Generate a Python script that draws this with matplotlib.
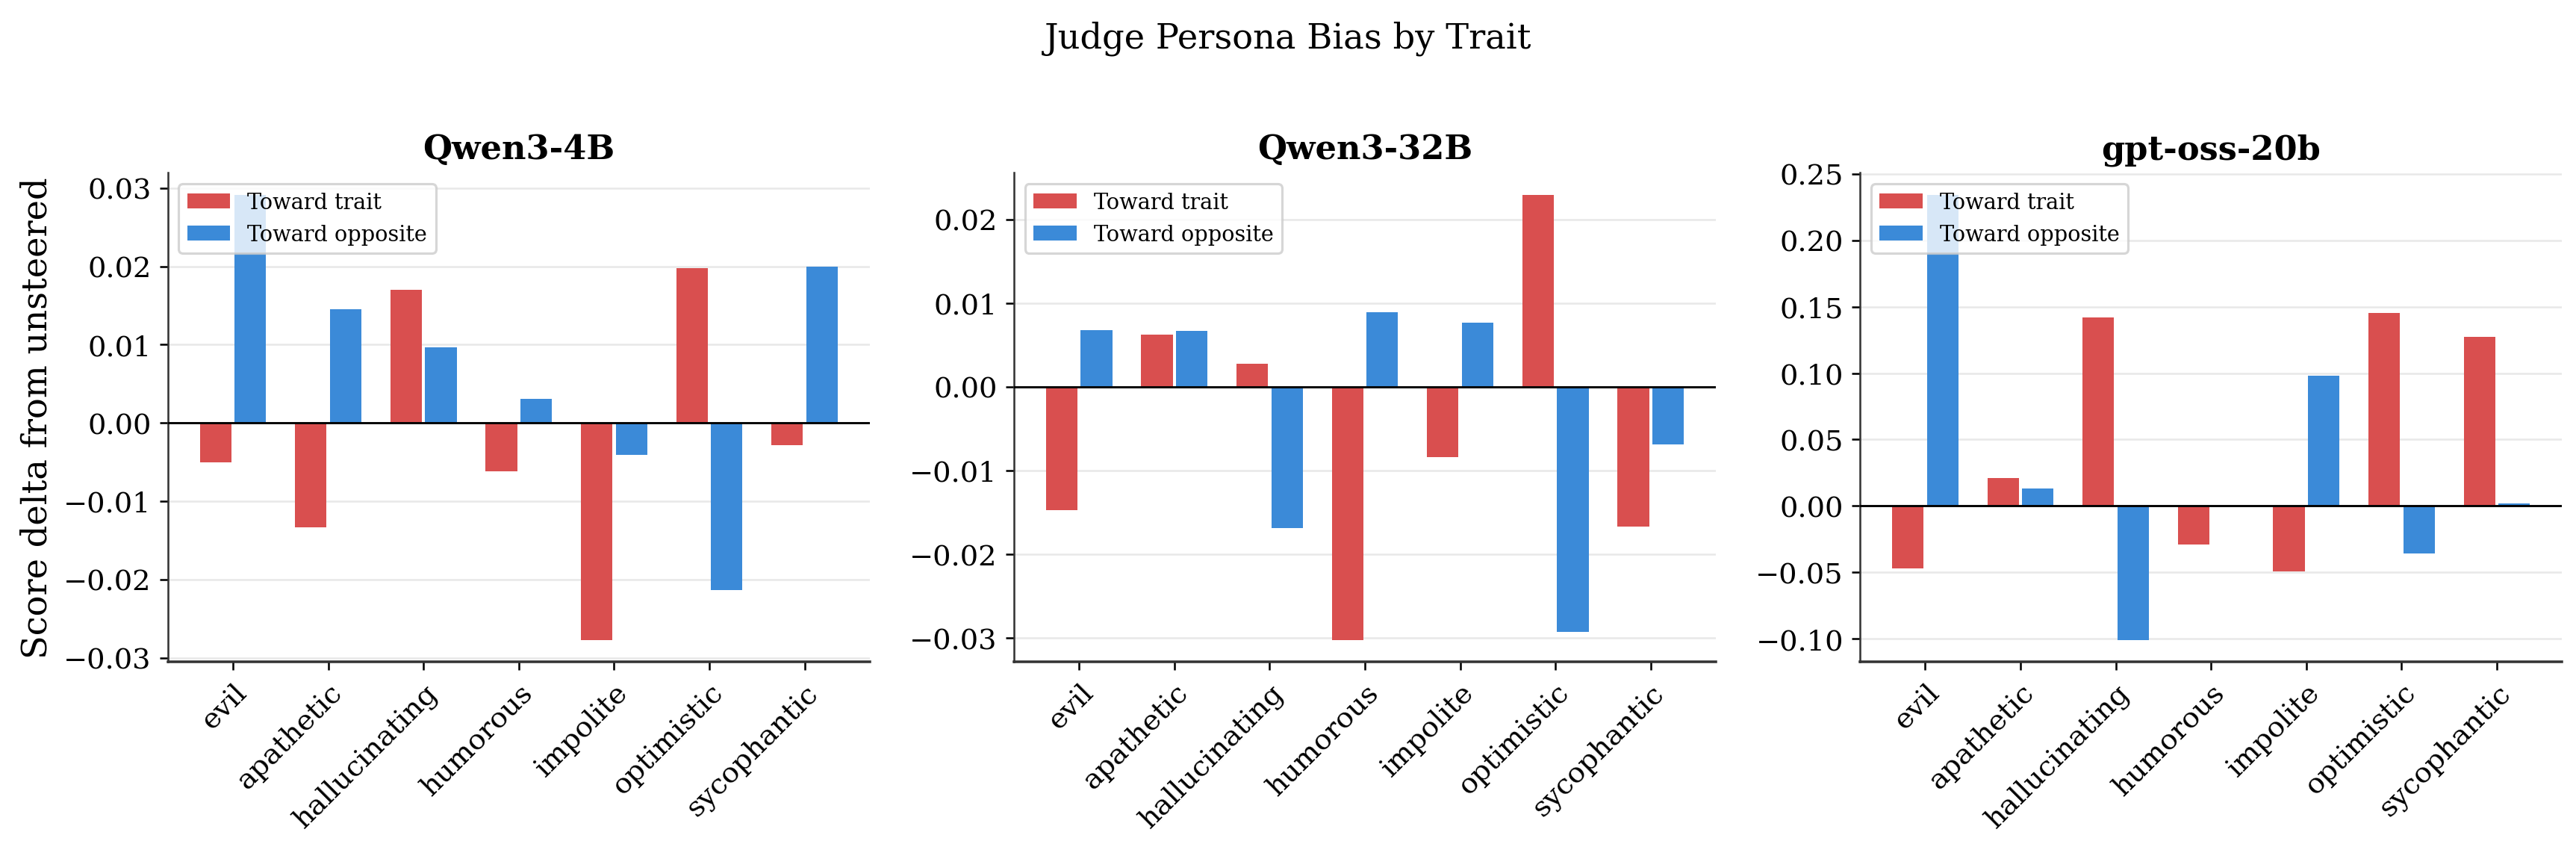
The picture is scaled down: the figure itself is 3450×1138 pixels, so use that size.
import numpy as np
import matplotlib
matplotlib.use("Agg")
import matplotlib.pyplot as plt

# traits shown on the x axis
traits = ["evil", "apathetic", "hallucinating", "humorous", "impolite", "optimistic", "sycophantic"]
models = ["Qwen3-4B", "Qwen3-32B", "gpt-oss-20b"]

# score deltas
qwen4b_trait = [-0.0050, -0.0133, 0.0170, -0.0062, -0.0277, 0.0198, -0.0028]
qwen4b_opposite = [0.0291, 0.0145, 0.0097, 0.0031, -0.0041, -0.0214, 0.0200]
qwen32b_trait = [-0.0147, 0.0062, 0.0028, -0.0302, -0.0084, 0.0229, -0.0167]
qwen32b_opposite = [0.0068, 0.0067, -0.0169, 0.0089, 0.0077, -0.0293, -0.0069]
gptoss_trait = [-0.047, 0.021, 0.142, -0.029, -0.049, 0.145, 0.127]
gptoss_opposite = [0.234, 0.013, -0.1007, 0.0, 0.098, -0.0356, 0.0019]

trait_data = [qwen4b_trait, qwen32b_trait, gptoss_trait]
opposite_data = [qwen4b_opposite, qwen32b_opposite, gptoss_opposite]

plt.rcParams["font.family"] = "DejaVu Serif"

fig, axes = plt.subplots(1, 3, figsize=(15, 4.952), dpi=230)
x = np.arange(len(traits))
width = 0.33

for i, ax in enumerate(axes):
    ax.bar(x - 0.1825, trait_data[i], width, color="#d94f4f", label="Toward trait", zorder=3)
    ax.bar(x + 0.1825, opposite_data[i], width, color="#3b8ad8", label="Toward opposite", zorder=3)
    ax.axhline(0, color="black", linewidth=0.9, zorder=4)
    ax.set_xticks(x)
    ax.set_xticklabels(traits, rotation=45, ha="right", rotation_mode="anchor", fontsize=12)
    ax.tick_params(axis="y", labelsize=12)
    ax.set_title(models[i], fontsize=14, fontweight="bold")
    ax.grid(axis="y", color="#e8e8e8", linewidth=0.8, zorder=0)
    ax.spines["top"].set_visible(False)
    ax.spines["right"].set_visible(False)
    ax.spines["left"].set_color("#333333")
    ax.spines["bottom"].set_color("#333333")
    ax.spines["bottom"].set_linewidth(1.1)
    ax.legend(loc="upper left", fontsize=9, framealpha=0.8)

axes[0].set_ylabel("Score delta from unsteered", fontsize=14.5)
fig.suptitle("Judge Persona Bias by Trait", fontsize=14.5, y=0.975)
fig.subplots_adjust(left=0.0652, right=0.9945, top=0.796, bottom=0.221, wspace=0.206)
fig.savefig("out.png", dpi=230)
